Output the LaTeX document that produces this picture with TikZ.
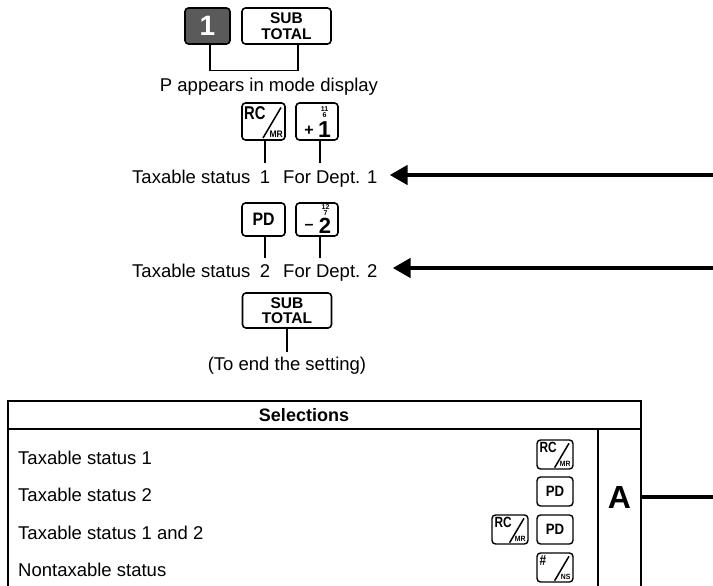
\documentclass[tikz,border=0pt]{standalone}
\usepackage{fontspec}
\setmainfont{Liberation Sans}
\usetikzlibrary{arrows.meta}
\definecolor{keygray}{HTML}{5A5A5A}
\newcommand\kf[1]{\fontsize{#1}{#1}\selectfont\bfseries}
\newcommand\tf{\fontsize{18.5}{22}\selectfont}
\newcommand\slashkey[4]{%
 \begin{scope}[shift={(#1.center)}, scale=#2, transform shape]
  \node[anchor=base west, inner sep=0pt, font=\kf{18.5}] (#1-t) at (-19.5,-2) {\scalebox{0.8}[1]{#3}};
  \draw[line width=1.5pt] (-0.5,16.5) -- (17.5,-14);
  \node[anchor=base east, inner sep=0pt, font=\kf{9.5}] (#1-b) at (19.5,15.5) {\scalebox{0.9}[1]{#4}};
 \end{scope}}
\begin{document}
\begin{tikzpicture}[x=1pt, y=-1pt,
  keybox/.style={draw, line width=1.6pt, rounded corners=3.5pt, inner sep=0pt},
  lbl/.style={font=\tf, inner sep=0pt},
  conn/.style={line width=1.1pt},
  bigarrow/.style={line width=4.5pt, -{Triangle[length=18pt,width=19pt]}},
  tbl/.style={line width=2pt}]
\useasboundingbox (0,0) rectangle (713,586);

% ---- first step
\node[keybox, fill=keygray, text=white, font=\kf{28}, minimum width=45pt, minimum height=36pt] (k1) at (207.5,26) {1};
\node[keybox, font=\kf{15.5}, align=center, minimum width=89pt, minimum height=36pt] (st1) at (286.5,26) {SUB\\TOTAL};
\node[lbl, anchor=base] (pa) at (269,92) {P appears in mode display};
\draw[conn] ([xshift=2.5pt]k1.south) -- ++(0,26) -| ([xshift=11.5pt]st1.south);

% ---- row 1
\node[keybox, minimum width=43pt, minimum height=37pt] (rc1) at (263.5,121.5) {};
\slashkey{rc1}{1}{RC}{MR}
\node[keybox, minimum width=42pt, minimum height=37pt] (p1) at (317,121.5) {};
\node[font=\kf{23}, inner sep=0pt, anchor=base] (p1-big) at ([xshift=7.5pt,yshift=-15.5pt]p1.center) {1};
\node[font=\kf{16}, inner sep=0pt] (p1-pl) at ([xshift=-8pt,yshift=-9pt]p1.center) {+};
\node[font=\kf{7}, inner sep=0pt] (p1-a) at ([xshift=7.5pt,yshift=12.5pt]p1.center) {11};
\node[font=\kf{7}, inner sep=0pt] (p1-b) at ([xshift=7.5pt,yshift=6.5pt]p1.center) {6};

\node[lbl, anchor=base west] (ts1) at (132,183) {Taxable status};
\node[lbl, anchor=base] (n1) at (265,183) {1};
\node[lbl, anchor=base west] (fd1) at (283,183) {For Dept. 1};
\draw[conn, shorten >=7pt] (rc1.south -| n1.north) -- (n1.north);
\draw[conn, shorten >=7pt] ([xshift=3pt]p1.south) -- ([xshift=3pt]p1.south |- fd1.north);
\coordinate (e1) at (713,175);
\draw[bigarrow] (e1) -- ([xshift=12pt]e1 -| fd1.east);

% ---- row 2
\node[keybox, font=\kf{18}, minimum width=43pt, minimum height=33pt] (pd) at (263.5,219.5) {\scalebox{0.88}[1]{PD}};
\node[keybox, minimum width=42pt, minimum height=33pt] (m2) at (317,219.5) {};
\node[font=\kf{22}, inner sep=0pt, anchor=base] (m2-big) at ([xshift=8pt,yshift=-13.5pt]m2.center) {2};
\node[font=\kf{16}, inner sep=0pt] (m2-mi) at ([xshift=-8pt,yshift=-7.5pt]m2.center) {–};
\node[font=\kf{7}, inner sep=0pt] (m2-a) at ([xshift=8.5pt,yshift=12.5pt]m2.center) {12};
\node[font=\kf{7}, inner sep=0pt] (m2-b) at ([xshift=8.5pt,yshift=6.5pt]m2.center) {7};

\node[lbl, anchor=base west] (ts2) at (132,277) {Taxable status};
\node[lbl, anchor=base] (n2) at (265,277) {2};
\node[lbl, anchor=base west] (fd2) at (283,277) {For Dept. 2};
\draw[conn, shorten >=6pt] (pd.south -| n2.north) -- (n2.north);
\draw[conn, shorten >=6pt] ([xshift=3pt]m2.south) -- ([xshift=3pt]m2.south |- fd2.north);
\coordinate (e2) at (713,268);
\draw[bigarrow] (e2) -- ([xshift=15pt]e2 -| fd2.east);

% ---- end
\node[keybox, font=\kf{15.5}, align=center, minimum width=89pt, minimum height=35pt] (st2) at (287,310.5) {SUB\\TOTAL};
\node[lbl, anchor=base] (te) at (287,370) {(To end the setting)};
\draw[conn, shorten >=4pt] (st2.south) -- (te.north);

% ---- table
\draw[tbl] (8,586) -- (8,401) -- (641,401) -- (641,586);
\draw[tbl] (8,429) -- (641,429);
\draw[tbl] (598,429) -- (598,586);
\node[font=\kf{18}, inner sep=0pt] (sel) at (304,415) {Selections};
\node[lbl, anchor=base west] (r1) at (18,464) {Taxable status 1};
\node[lbl, anchor=base west] (r2) at (18,501) {Taxable status 2};
\node[lbl, anchor=base west] (r3) at (18,539) {Taxable status 1 and 2};
\node[lbl, anchor=base west] (r4) at (18,576) {Nontaxable status};

\node[keybox, line width=1.4pt, minimum width=36pt, minimum height=29pt] (tk1) at (555,454.5) {};
\slashkey{tk1}{0.8}{RC}{MR}
\node[keybox, line width=1.4pt, font=\kf{15}, minimum width=36pt, minimum height=29pt] (tk2) at (555,491.5) {\scalebox{0.88}[1]{PD}};
\node[keybox, line width=1.4pt, minimum width=36pt, minimum height=29pt] (tk3) at (510,529.5) {};
\slashkey{tk3}{0.8}{RC}{MR}
\node[keybox, line width=1.4pt, font=\kf{15}, minimum width=36pt, minimum height=29pt] (tk4) at (555,529.5) {\scalebox{0.88}[1]{PD}};
\node[keybox, line width=1.4pt, minimum width=36pt, minimum height=29pt] (tk5) at (555,567.5) {};
\slashkey{tk5}{0.8}{\#}{NS}

\node[font=\kf{32}, inner sep=0pt] (A) at (619.5,497) {A};
\coordinate (ar) at (641,497);
\coordinate (ea) at (713,497);
\draw[line width=4.5pt] (ar) -- (ea);
\end{tikzpicture}
\end{document}
